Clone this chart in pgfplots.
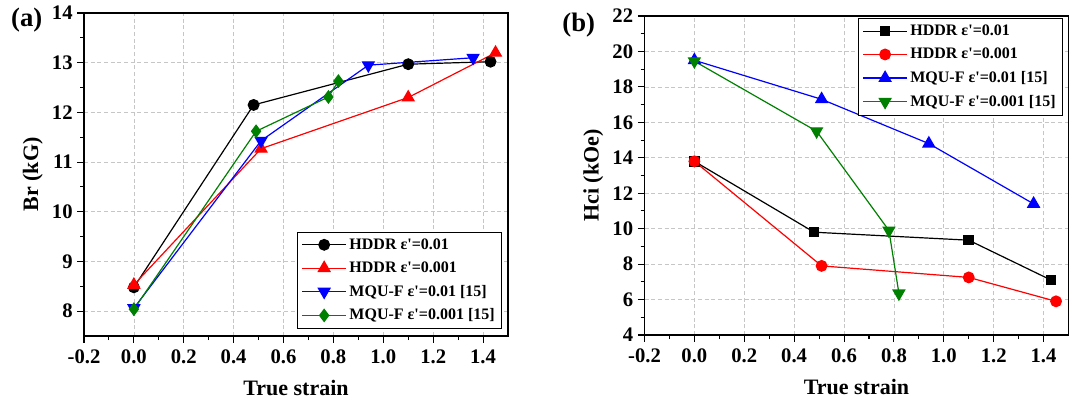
\documentclass[border=0pt]{standalone}
\usepackage{fontspec}
\setmainfont{Liberation Serif}
\usepackage{pgfplots}
\pgfplotsset{compat=1.18}
\definecolor{dgreen}{RGB}{0,128,0}

\pgfplotsset{
  panel/.style={
    scale only axis, width=318pt,
    xmin=-0.2, xmax=1.5,
    xtick={-0.2,0,0.2,0.4,0.6,0.8,1.0,1.2,1.4},
    tick align=outside, tick pos=left,
    minor x tick num=1, minor y tick num=1,
    major tick length=5pt, minor tick length=3pt,
    grid=major, grid style={densely dashed, gray!45, line width=0.5pt},
    axis line style={line width=1pt},
    every tick/.style={black, line width=0.8pt},
    /pgf/number format/assume math mode=true,
    x tick label style={yshift=-2pt},
    xticklabel={\pgfmathprintnumber[fixed, fixed zerofill, precision=1]{\tick}},
    ticklabel style={font=\fontsize{15.5}{15.5}\selectfont\bfseries},
    label style={font=\fontsize{16.5}{16.5}\selectfont\bfseries},
    xlabel style={yshift=-5pt},
    xlabel={True strain},
    legend cell align=left,
    legend style={font=\fontsize{12}{13}\selectfont\bfseries, draw=black,
      row sep=4pt, inner xsep=3pt, inner ysep=3pt},
    legend image code/.code={%
      \draw[mark repeat=2,mark phase=2] plot coordinates {(0cm,0cm)(0.58cm,0cm)(1.16cm,0cm)};},
    every axis plot/.append style={line width=0.9pt, mark options={solid}},
  }
}

\begin{document}
\begin{tikzpicture}
\path[use as bounding box] (0,0) rectangle (801.75pt,300.75pt);

\begin{axis}[panel, at={(63pt,48.75pt)}, anchor=south west,
  height=242.25pt, ymin=7.5, ymax=14, ytick={8,9,10,11,12,13,14},
  ylabel={Br (kG)},
  legend style={at={(0.985,0.022)}, anchor=south east}]
\addplot[black, mark=*, mark size=4pt] coordinates {(0,8.48) (0.48,12.15) (1.1,12.97) (1.43,13.02)};
\addlegendentry{HDDR ε\textquotesingle=0.01}
\addplot[red, mark=triangle*, mark size=5pt] coordinates {(0,8.53) (0.51,11.27) (1.1,12.3) (1.45,13.2)};
\addlegendentry{HDDR ε\textquotesingle=0.001}
\addplot[blue, mark=triangle*, mark size=5pt, mark options={rotate=180}] coordinates {(0,8.06) (0.51,11.43) (0.94,12.95) (1.36,13.1)};
\addlegendentry{MQU-F ε\textquotesingle=0.01 [15]}
\addplot[dgreen, mark=diamond*, mark size=4.5pt] coordinates {(0,8.04) (0.49,11.62) (0.78,12.31) (0.82,12.63)};
\addlegendentry{MQU-F ε\textquotesingle=0.001 [15]}
\end{axis}

\begin{axis}[panel, at={(483.375pt,49.5pt)}, anchor=south west,
  height=239.25pt, ymin=4, ymax=22, ytick={4,6,8,10,12,14,16,18,20,22},
  ylabel={Hci (kOe)},
  legend style={at={(0.986,0.994)}, anchor=north east}]
\addplot[black, mark=square*, mark size=3.5pt] coordinates {(0,13.8) (0.48,9.8) (1.1,9.35) (1.43,7.1)};
\addlegendentry{HDDR ε\textquotesingle=0.01}
\addplot[red, mark=*, mark size=4pt] coordinates {(0,13.8) (0.51,7.9) (1.1,7.25) (1.45,5.9)};
\addlegendentry{HDDR ε\textquotesingle=0.001}
\addplot[blue, mark=triangle*, mark size=5pt] coordinates {(0,19.5) (0.51,17.3) (0.94,14.8) (1.36,11.4)};
\addlegendentry{MQU-F ε\textquotesingle=0.01 [15]}
\addplot[dgreen, mark=triangle*, mark size=5pt, mark options={rotate=180}] coordinates {(0,19.45) (0.49,15.5) (0.78,9.9) (0.82,6.35)};
\addlegendentry{MQU-F ε\textquotesingle=0.001 [15]}
\end{axis}

\node[font=\fontsize{20}{20}\selectfont\bfseries] at (20pt,285.75pt) {(a)};
\node[font=\fontsize{20}{20}\selectfont\bfseries] at (434pt,282pt) {(b)};
\end{tikzpicture}
\end{document}
